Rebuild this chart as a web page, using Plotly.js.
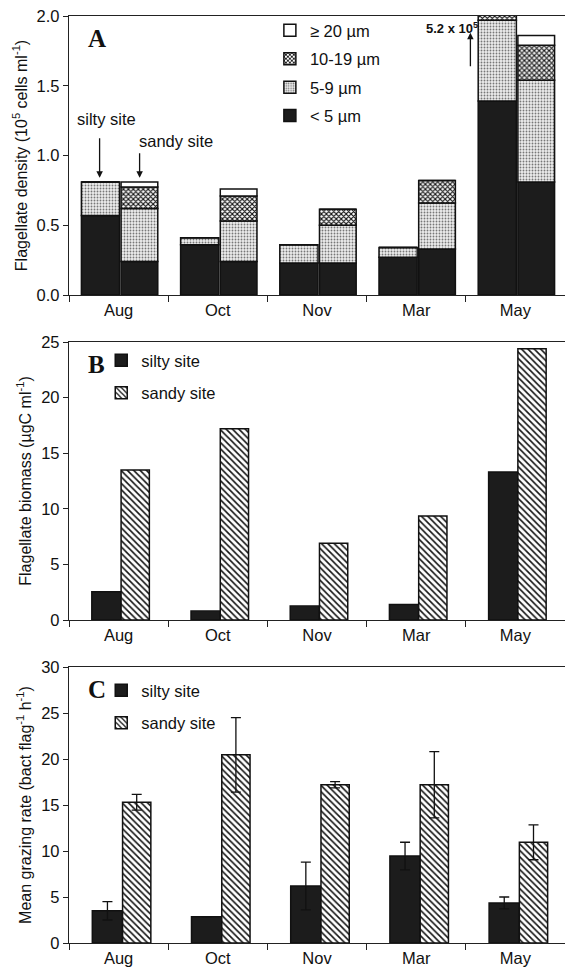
<!DOCTYPE html>
<html>
<head>
<meta charset="utf-8">
<script src="https://cdn.plot.ly/plotly-3.0.1.min.js"></script>
<style>html,body{margin:0;padding:0;background:#fff;}#chart{width:565px;height:973px;}</style>
</head>
<body>
<div id="chart"></div>
<script>
// ---------- data ----------
const months = ["Aug", "Oct", "Nov", "Mar", "May"];

// Panel A: flagellate density (10^5 cells ml-1) by size class
const sizeClasses = ["< 5 µm", "5-9 µm", "10-19 µm", "≥ 20 µm"];
const siltyLt5   = [0.57, 0.36, 0.23, 0.27, 1.39];
const silty5_9   = [0.24, 0.05, 0.13, 0.07, 0.58];
const silty10_19 = [0.00, 0.00, 0.00, 0.00, 3.23];
const siltyGe20  = [0.00, 0.00, 0.00, 0.00, 0.00];
const sandyLt5   = [0.24, 0.24, 0.23, 0.33, 0.81];
const sandy5_9   = [0.38, 0.29, 0.27, 0.33, 0.73];
const sandy10_19 = [0.155, 0.18, 0.115, 0.16, 0.25];
const sandyGe20  = [0.035, 0.05, 0.00, 0.00, 0.07];

// Panel B: flagellate biomass (µgC ml-1)
const biomassSilty = [2.55, 0.8, 1.25, 1.4, 13.3];
const biomassSandy = [13.5, 17.2, 6.9, 9.35, 24.4];

// Panel C: mean grazing rate (bact flag-1 h-1) with error
const grazeSilty    = [3.5, 2.85, 6.2, 9.45, 4.35];
const grazeSiltyErr = [1.0, 0, 2.6, 1.5, 0.65];
const grazeSandy    = [15.3, 20.45, 17.2, 17.2, 10.95];
const grazeSandyErr = [0.85, 4.05, 0.33, 3.6, 1.9];

// ---------- styles ----------
const FONT = "Liberation Sans, Arial, sans-serif";
const NARROW = "Liberation Sans Narrow, Arial Narrow, Liberation Sans, Arial, sans-serif";
const SERIF = "Liberation Serif, Times New Roman, serif";
const BLACK = "#1c1c1c";
const outline = {color: "#111", width: 1.5};

const classStyles = [
  {color: BLACK},
  {color: "#e4e4e4", pattern: {shape: ".", fgcolor: "#777", bgcolor: "#ececec", size: 3, solidity: 0.3}},
  {color: "#888", pattern: {shape: "x", fgcolor: "#111", bgcolor: "#ffffff", size: 3.5, solidity: 0.55}},
  {color: "#ffffff"}
];
const hatch = {shape: "\\", fgcolor: "#111", bgcolor: "#ffffff", size: 4.5, solidity: 0.35};

const posA = {silty: {offset: -0.375, width: 0.385}, sandy: {offset: 0.025, width: 0.37}};
const posB = {silty: {offset: -0.27, width: 0.295}, sandy: {offset: 0.025, width: 0.285}};
const posC = {silty: {offset: -0.265, width: 0.305}, sandy: {offset: 0.04, width: 0.285}};

function cumBase(list, k) {
  return months.map((_, i) => list.slice(0, k).reduce((s, arr) => s + arr[i], 0));
}

const traces = [];
const siltyA = [siltyLt5, silty5_9, silty10_19, siltyGe20];
const sandyA = [sandyLt5, sandy5_9, sandy10_19, sandyGe20];
[["silty", siltyA], ["sandy", sandyA]].forEach(([site, list]) => {
  list.forEach((vals, k) => {
    const st = classStyles[k];
    const marker = {color: st.color, line: outline};
    if (st.pattern) marker.pattern = st.pattern;
    traces.push({
      type: "bar", x: months, y: vals, base: cumBase(list, k),
      xaxis: "x", yaxis: "y",
      offset: posA[site].offset, width: posA[site].width,
      marker: marker, name: sizeClasses[k],
      legend: "legend", legendgroup: "g" + k, legendrank: 10 - k,
      showlegend: site === "sandy", hoverinfo: "skip"
    });
  });
});

// Panel B
traces.push({type: "bar", x: months, y: biomassSilty, xaxis: "x2", yaxis: "y2",
  offset: posB.silty.offset, width: posB.silty.width,
  marker: {color: BLACK, line: outline}, name: "silty site", legend: "legend2", legendgroup: "b1"});
traces.push({type: "bar", x: months, y: biomassSandy, xaxis: "x2", yaxis: "y2",
  offset: posB.sandy.offset, width: posB.sandy.width,
  marker: {color: "#fff", pattern: hatch, line: outline}, name: "sandy site", legend: "legend2", legendgroup: "b2"});

// Panel C
const errStyle = {color: "#111", thickness: 1.3, width: 5};
traces.push({type: "bar", x: months, y: grazeSilty, xaxis: "x3", yaxis: "y3",
  offset: posC.silty.offset, width: posC.silty.width,
  error_y: Object.assign({type: "data", array: grazeSiltyErr, visible: true}, errStyle),
  marker: {color: BLACK, line: outline}, name: "silty site", legend: "legend3", legendgroup: "c1"});
traces.push({type: "bar", x: months, y: grazeSandy, xaxis: "x3", yaxis: "y3",
  offset: posC.sandy.offset, width: posC.sandy.width,
  error_y: Object.assign({type: "data", array: grazeSandyErr, visible: true}, errStyle),
  marker: {color: "#fff", pattern: hatch, line: outline}, name: "sandy site", legend: "legend3", legendgroup: "c2"});

// ---------- layout ----------
function xAxis(anchor) {
  return {anchor: anchor, domain: [0, 1], type: "category", categoryorder: "array", categoryarray: months,
    showline: true, linecolor: "#222", linewidth: 1.2, mirror: true,
    ticks: "outside", tickson: "boundaries", ticklen: 6, tickcolor: "#222",
    tickfont: {family: FONT, size: 16.5, color: "#111"}, showgrid: false, zeroline: false, fixedrange: true};
}
function yAxis(anchor, dom, range, dtick, fmt, title) {
  return {anchor: anchor, domain: dom, range: range, dtick: dtick, tickformat: fmt,
    showline: true, linecolor: "#222", linewidth: 1.2, ticks: "outside", ticklen: 5, tickcolor: "#222",
    tickfont: {family: FONT, size: 16.5, color: "#111"}, showgrid: false, zeroline: false,
    title: {text: title, font: {family: NARROW, size: 16, color: "#111"}, standoff: 5}, fixedrange: true};
}
const H = 973;
const dom = (top, bottom) => [1 - bottom / H, 1 - top / H];

const legendBase = {font: {family: FONT, size: 16.5, color: "#111"}, bgcolor: "rgba(0,0,0,0)",
  xanchor: "left", yanchor: "top", traceorder: "grouped", itemclick: false, itemdoubleclick: false};

const layout = {
  width: 565, height: 973,
  margin: {l: 69, r: 0, t: 0, b: 0},
  paper_bgcolor: "#fff", plot_bgcolor: "#fff",
  barmode: "overlay",
  showlegend: true,
  xaxis: xAxis("y"), yaxis: yAxis("x", dom(16, 295), [0, 2], 0.5, ".1f",
    "Flagellate density (10<sup>5</sup> cells ml<sup>-1</sup>)"),
  xaxis2: xAxis("y2"), yaxis2: yAxis("x2", dom(342, 620), [0, 25], 5, "d",
    "Flagellate biomass (µgC ml<sup>-1</sup>)"),
  xaxis3: xAxis("y3"), yaxis3: yAxis("x3", dom(667, 943), [0, 30], 5, "d",
    "Mean grazing rate (bact flag<sup>-1</sup> h<sup>-1</sup>)"),
  legend: Object.assign({}, legendBase, {x: 0.405, y: 1 - 13 / H, tracegroupgap: 4}),
  legend2: Object.assign({}, legendBase, {x: 0.065, y: 1 - 343 / H, tracegroupgap: 8}),
  legend3: Object.assign({}, legendBase, {x: 0.065, y: 1 - 673 / H, tracegroupgap: 8}),
  annotations: [
    {text: "<b>A</b>", xref: "x domain", yref: "y domain", x: 0.035, y: 0.92, xanchor: "left", yanchor: "middle",
      showarrow: false, font: {family: SERIF, size: 25, color: "#111"}},
    {text: "<b>B</b>", xref: "x2 domain", yref: "y2 domain", x: 0.035, y: 0.92, xanchor: "left", yanchor: "middle",
      showarrow: false, font: {family: SERIF, size: 25, color: "#111"}},
    {text: "<b>C</b>", xref: "x3 domain", yref: "y3 domain", x: 0.035, y: 0.92, xanchor: "left", yanchor: "middle",
      showarrow: false, font: {family: SERIF, size: 25, color: "#111"}},
    {text: "silty site", xref: "x", yref: "y", x: "Aug", y: 1.26, xshift: -12, showarrow: false,
      font: {family: FONT, size: 16.5, color: "#111"}},
    {text: "", xref: "x", yref: "y", x: "Aug", y: 0.84, xshift: -19, showarrow: true, axref: "pixel", ayref: "pixel",
      ax: 0, ay: -41, arrowhead: 2, arrowsize: 1, arrowwidth: 1.3, arrowcolor: "#111"},
    {text: "sandy site", xref: "x", yref: "y", x: "Aug", y: 1.105, xshift: 57, showarrow: false,
      font: {family: FONT, size: 16.5, color: "#111"}},
    {text: "", xref: "x", yref: "y", x: "Aug", y: 0.84, xshift: 21, showarrow: true, axref: "pixel", ayref: "pixel",
      ax: 0, ay: -26, arrowhead: 2, arrowsize: 1, arrowwidth: 1.3, arrowcolor: "#111"},
    {text: "<b>5.2 x 10<sup>5</sup></b>", xref: "x", yref: "y", x: "May", y: 1.915, xshift: -63, showarrow: false,
      font: {family: FONT, size: 13, color: "#111"}},
    {text: "", xref: "x", yref: "y", x: "May", y: 1.88, xshift: -45, showarrow: true, axref: "pixel", ayref: "pixel",
      ax: 0, ay: 35, arrowhead: 2, arrowsize: 1, arrowwidth: 1.3, arrowcolor: "#111"}
  ]
};

Plotly.newPlot("chart", traces, layout, {displayModeBar: false, staticPlot: true});
</script>
</body>
</html>
